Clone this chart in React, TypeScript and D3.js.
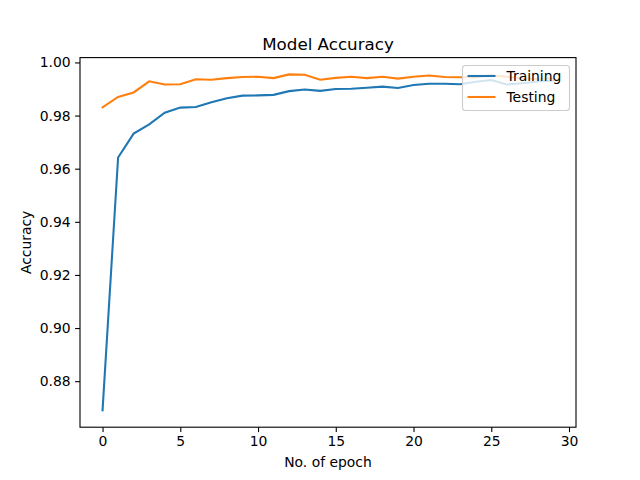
import React, { useEffect, useRef } from 'react';
import * as d3 from 'd3';

// data
const epochs = d3.range(0, 30);
const training = [
  0.869, 0.9642, 0.9732, 0.9767, 0.9811, 0.983, 0.9832, 0.985, 0.9865, 0.9875, 0.9876, 0.9878, 0.9892, 0.9898, 0.9893,
  0.99, 0.9901, 0.9905, 0.9909, 0.9904, 0.9915, 0.992, 0.992, 0.9918, 0.9927, 0.9934, 0.9917, 0.9922, 0.9928, 0.9932,
];
const testing = [
  0.9831, 0.987, 0.9887, 0.9929, 0.9917, 0.9918, 0.9937, 0.9935, 0.9941, 0.9945, 0.9946, 0.9941, 0.9955, 0.9954, 0.9935,
  0.9942, 0.9946, 0.9941, 0.9946, 0.9939, 0.9946, 0.9951, 0.9945, 0.9944, 0.9944, 0.9952, 0.9946, 0.994, 0.9938, 0.9941,
];
const seriesNames = ['Training', 'Testing'];
const xTicks = [0, 5, 10, 15, 20, 25, 30];
const yTicks = [0.88, 0.9, 0.92, 0.94, 0.96, 0.98, 1.0];

const colors = ['#1f77b4', '#ff7f0e'];
const font = '"DejaVu Sans", sans-serif';

export default function App() {
  const ref = useRef<SVGSVGElement>(null);

  useEffect(() => {
    draw();
  }, []);

  function draw() {
    const svg = d3.select(ref.current);
    svg.selectAll('*').remove();
    const margin = { top: 57.6, right: 64, bottom: 52.8, left: 80 };
    const width = 640;
    const height = 480;

    // matplotlib style 5% padding around the data
    const xPad = (d3.max(epochs)! - d3.min(epochs)!) * 0.05;
    const all = training.concat(testing);
    const [yMin, yMax] = d3.extent(all) as [number, number];
    const yPad = (yMax - yMin) * 0.05;

    const xScale = d3
      .scaleLinear()
      .domain([d3.min(epochs)! - xPad, d3.max(epochs)! + xPad])
      .range([margin.left, width - margin.right]);
    const yScale = d3
      .scaleLinear()
      .domain([yMin - yPad, yMax + yPad])
      .range([height - margin.bottom, margin.top]);

    svg.append('rect').attr('width', width).attr('height', height).attr('fill', '#fff');

    const xAxis = d3
      .axisBottom(xScale)
      .tickValues(xTicks)
      .tickFormat(d3.format('d'))
      .tickSize(4.9)
      .tickPadding(4.5);
    const yAxis = d3
      .axisLeft(yScale)
      .tickValues(yTicks)
      .tickFormat(d3.format('.2f'))
      .tickSize(4.9)
      .tickPadding(4.5);

    const gx = svg
      .append('g')
      .attr('transform', `translate(0, ${height - margin.bottom})`)
      .call(xAxis);
    const gy = svg.append('g').attr('transform', `translate(${margin.left}, 0)`).call(yAxis);
    [gx, gy].forEach((g) => {
      g.select('.domain').remove();
      g.selectAll('line').attr('stroke', '#000').attr('stroke-width', 1.1);
      g.selectAll('text').attr('font-family', font).attr('font-size', 13.9).attr('fill', '#000');
    });

    const line = (vals: number[]) =>
      d3
        .line<number>()
        .x((_, i) => xScale(epochs[i]))
        .y((d) => yScale(d))(vals);

    svg
      .append('defs')
      .append('clipPath')
      .attr('id', 'plot-clip')
      .append('rect')
      .attr('x', margin.left)
      .attr('y', margin.top)
      .attr('width', width - margin.left - margin.right)
      .attr('height', height - margin.top - margin.bottom);

    [training, testing].forEach((vals, i) => {
      svg
        .append('path')
        .attr('d', line(vals))
        .attr('fill', 'none')
        .attr('stroke', colors[i])
        .attr('stroke-width', 2.08)
        .attr('stroke-linecap', 'square')
        .attr('clip-path', 'url(#plot-clip)');
    });

    // axes frame
    svg
      .append('rect')
      .attr('x', margin.left)
      .attr('y', margin.top)
      .attr('width', width - margin.left - margin.right)
      .attr('height', height - margin.top - margin.bottom)
      .attr('fill', 'none')
      .attr('stroke', '#000')
      .attr('stroke-width', 1.1);

    // legend
    const lg = svg.append('g').attr('transform', 'translate(462.5, 65.5)');
    lg.append('rect')
      .attr('width', 107)
      .attr('height', 45)
      .attr('rx', 3)
      .attr('fill', '#fff')
      .attr('fill-opacity', 0.8)
      .attr('stroke', '#ccc')
      .attr('stroke-width', 1.1);
    seriesNames.forEach((name, i) => {
      const y = 10.5 + i * 21;
      lg.append('line')
        .attr('x1', 5)
        .attr('x2', 33)
        .attr('y1', y)
        .attr('y2', y)
        .attr('stroke', colors[i])
        .attr('stroke-width', 2.08);
      lg.append('text')
        .text(name)
        .attr('x', 44)
        .attr('y', y + 5)
        .attr('font-family', font)
        .attr('font-size', 13.9)
        .attr('fill', '#000');
    });

    // labels
    svg
      .append('text')
      .text('Model Accuracy')
      .attr('x', (margin.left + width - margin.right) / 2)
      .attr('y', 49.5)
      .attr('text-anchor', 'middle')
      .attr('font-family', font)
      .attr('font-size', 16.7);
    svg
      .append('text')
      .text('No. of epoch')
      .attr('x', (margin.left + width - margin.right) / 2)
      .attr('y', 467)
      .attr('text-anchor', 'middle')
      .attr('font-family', font)
      .attr('font-size', 13.9);
    svg
      .append('text')
      .text('Accuracy')
      .attr('transform', `translate(31, ${(margin.top + height - margin.bottom) / 2}) rotate(-90)`)
      .attr('text-anchor', 'middle')
      .attr('font-family', font)
      .attr('font-size', 13.9);
  }

  return <svg ref={ref} width={640} height={480} style={{ position: 'absolute', left: 0, top: 0 }} />;
}
